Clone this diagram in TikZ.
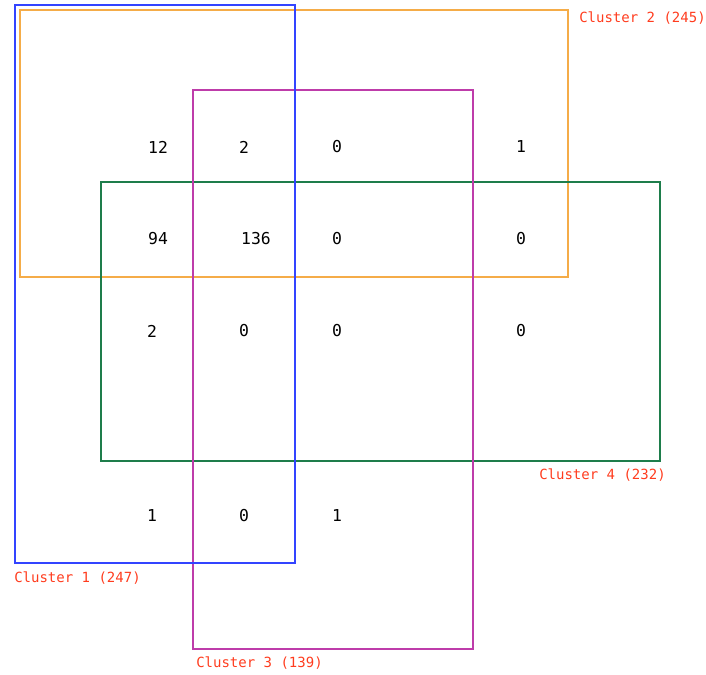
\documentclass[tikz,border=0pt]{standalone}
\usepackage{fontspec}
\setmonofont{DejaVu Sans Mono}
\usepackage{tikz}
\usetikzlibrary{positioning}
\definecolor{clblue}{RGB}{51,68,255}
\definecolor{clorange}{RGB}{245,172,72}
\definecolor{clmagenta}{RGB}{190,60,170}
\definecolor{clgreen}{RGB}{30,125,75}
\definecolor{cllabel}{RGB}{255,60,30}
\tikzset{
	count/.style={font=\ttfamily\fontsize{12.3}{14}\selectfont, inner sep=0pt},
	clusterlabel/.style={font=\ttfamily\fontsize{10.5}{12}\selectfont, text=cllabel, inner sep=0pt, anchor=west},
	clusterbox/.style={line width=0.8pt}
}

\begin{document}
\begin{tikzpicture}[x=0.75pt, y=-0.75pt]
	
	\useasboundingbox (0,0) rectangle (706,674);
	
	% cluster boxes
	\draw[clusterbox, clorange] (20,10) rectangle (568,277);
	\draw[clusterbox, clgreen] (101,182) rectangle (660,461);
	\draw[clusterbox, clmagenta] (193,90) rectangle (473,649);
	\draw[clusterbox, clblue] (15,5) rectangle (295,563);
	
	% counts
	\node[count] (n12) at (158,147) {12};
	\node[count] (n2a) at (244,147) {2};
	\node[count] (n0a) at (337,147) {0};
	\node[count] (n1a) at (521,147) {1};
	
	\node[count] (n94) at (158,239) {94};
	\node[count] (n136) at (256,239) {136};
	\node[count] (n0b) at (337,239) {0};
	\node[count] (n0c) at (521,239) {0};
	
	\node[count] (n2b) at (152,331) {2};
	\node[count] (n0d) at (244,331) {0};
	\node[count] (n0e) at (337,331) {0};
	\node[count] (n0f) at (521,331) {0};
	
	\node[count] (n1b) at (152,516) {1};
	\node[count] (n0g) at (244,516) {0};
	\node[count] (n1c) at (337,516) {1};
	
	% labels
	\node[clusterlabel] (lab2) at (579,18) {Cluster 2 (245)};
	\node[clusterlabel] (lab4) at (539,475) {Cluster 4 (232)};
	\node[clusterlabel] (lab1) at (14,578) {Cluster 1 (247)};
	\node[clusterlabel] (lab3) at (196,663) {Cluster 3 (139)};
	
\end{tikzpicture}
\end{document}
